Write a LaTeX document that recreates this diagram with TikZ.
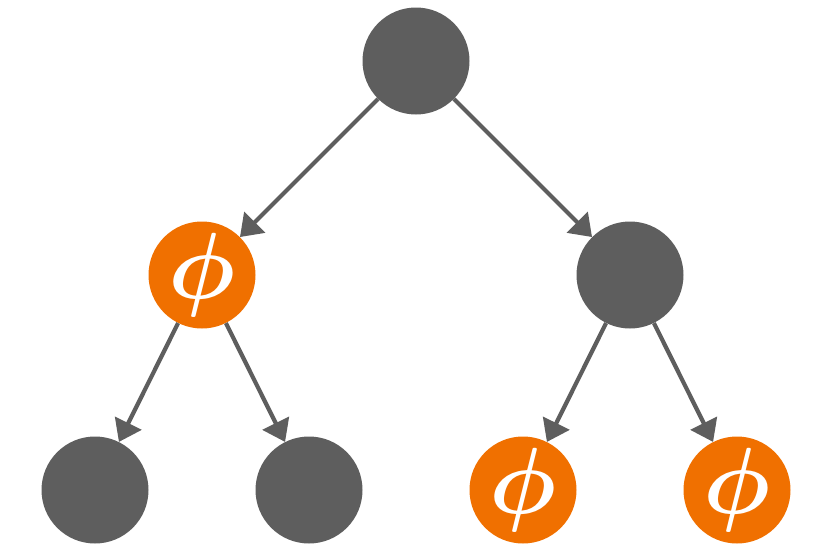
\documentclass[tikz,border=0pt]{standalone}
\usepackage{graphicx}
\usepackage{amsmath}
\usetikzlibrary{arrows.meta}
\definecolor{nodegray}{HTML}{5E5E5E}
\definecolor{nodeorange}{HTML}{F07000}
\newcommand{\bigphi}{\scalebox{9.4}{$\boldsymbol{\phi}$}}
\begin{document}
\begin{tikzpicture}[x=1pt,y=-1pt,
  plain/.style={circle,fill=nodegray,minimum size=107pt,inner sep=0pt},
  marked/.style={circle,fill=nodeorange,minimum size=107pt,inner sep=0pt,
    text=white},
  link/.style={draw=nodegray,line width=4.2pt,
    -{Triangle[length=21pt,width=29pt]}}]
\useasboundingbox (0,0) rectangle (820,549);
\node[plain]  (root) at (416,61)  {};
\node[marked] (l)    at (202,275) {\bigphi};
\node[plain]  (r)    at (630,275) {};
\node[plain]  (ll)   at (95,490)  {};
\node[plain]  (lr)   at (309,490) {};
\node[marked] (rl)   at (523,490) {\bigphi};
\node[marked] (rr)   at (737,490) {\bigphi};
\draw[link] (root) -- (l);
\draw[link] (root) -- (r);
\draw[link] (l) -- (ll);
\draw[link] (l) -- (lr);
\draw[link] (r) -- (rl);
\draw[link] (r) -- (rr);
\end{tikzpicture}
\end{document}
